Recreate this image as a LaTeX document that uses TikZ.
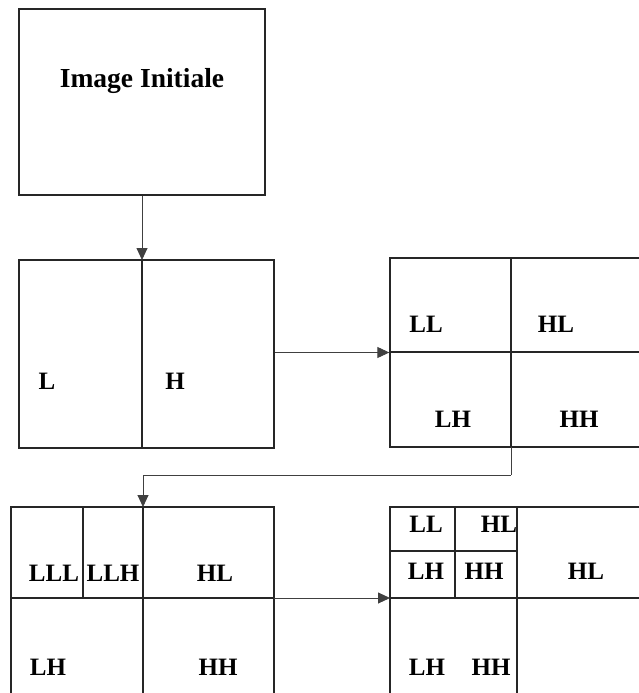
\documentclass[tikz,border=0pt]{standalone}
\usepackage{fontspec}
\setmainfont{Liberation Serif}
\usetikzlibrary{arrows.meta}
\begin{document}
\begin{tikzpicture}[x=1pt,y=-1pt,
  boxline/.style={draw=black!85, line width=1.3pt},
  lbl/.style={font=\fontsize{25}{29}\selectfont\bfseries, inner sep=0pt, text height=0.66em, text depth=0pt, anchor=center},
  conn/.style={draw=black!75, line width=0.9pt, -{Triangle[length=12pt,width=11pt]}},
  plain/.style={draw=black!75, line width=0.9pt}]
\useasboundingbox (0,0) rectangle (639,693);
\clip (0,0) rectangle (639,693);
% boxes
\node[boxline, minimum width=246pt, minimum height=186pt, inner sep=0pt] (box1) at (142,102) {};
\node[boxline, minimum width=255pt, minimum height=188pt, inner sep=0pt] (box2) at (146.5,354) {};
\node[boxline, minimum width=280pt, minimum height=189pt, inner sep=0pt] (box3) at (530,352.5) {};
\node[boxline, minimum width=263pt, minimum height=213pt, inner sep=0pt] (box4) at (142.5,613.5) {};
\node[boxline, minimum width=280pt, minimum height=213pt, inner sep=0pt] (box5) at (530,613.5) {};
% inner divisions
\draw[boxline] (142,260) -- (142,448);
\draw[boxline] (511,258) -- (511,447);
\draw[boxline] (390,352) -- (670,352);
\draw[boxline] (143,507) -- (143,720);
\draw[boxline] (11,598) -- (274,598);
\draw[boxline] (83,507) -- (83,598);
\draw[boxline] (517,507) -- (517,720);
\draw[boxline] (390,598) -- (670,598);
\draw[boxline] (390,551) -- (517,551);
\draw[boxline] (455,507) -- (455,598);
% coordinates for connectors
\coordinate (b2div) at (142,260);
\coordinate (b3div) at (511,447);
\coordinate (b4div) at (143,507);
\coordinate (b4mid) at (274,598);
\coordinate (b5mid) at (390,598);
% connectors
\draw[conn] (box1.south) -- (b2div);
\draw[conn] (box2.east |- box3.west) -- (box3.west);
\draw[plain] (b3div) -- ++(0,28) coordinate (turn1);
\draw[conn] (turn1) -| (b4div);
\draw[conn] (b4mid) -- (b5mid);
% labels
\node[lbl, font=\fontsize{27.5}{32}\selectfont\bfseries] (t0) at (142,84) {Image Initiale};
\node[lbl] (t1) at (47,386) {L};
\node[lbl] (t2) at (175,386) {H};
\node[lbl] (t3) at (426,329) {LL};
\node[lbl] (t4) at (556,329) {HL};
\node[lbl] (t5) at (453,424) {LH};
\node[lbl] (t6) at (579,424) {HH};
\node[lbl] (t7) at (54,578) {LLL};
\node[lbl] (t8) at (113,578) {LLH};
\node[lbl] (t9) at (215,578) {HL};
\node[lbl] (t10) at (48,672) {LH};
\node[lbl] (t11) at (218,672) {HH};
\node[lbl] (t12) at (426,529) {LL};
\node[lbl] (t13) at (499,529) {HL};
\node[lbl] (t14) at (426,576) {LH};
\node[lbl] (t15) at (484,576) {HH};
\node[lbl] (t16) at (586,576) {HL};
\node[lbl] (t17) at (427,672) {LH};
\node[lbl] (t18) at (491,672) {HH};
\end{tikzpicture}
\end{document}
